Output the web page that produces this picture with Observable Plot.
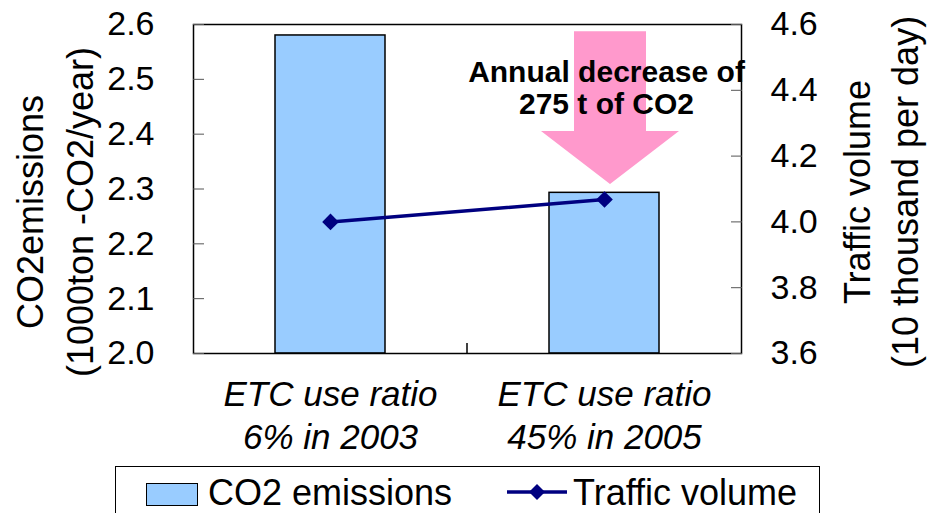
<!DOCTYPE html>
<html><head><meta charset="utf-8">
<script src="https://cdn.jsdelivr.net/npm/d3@7"></script>
<script src="https://cdn.jsdelivr.net/npm/@observablehq/plot@0.6"></script>
<style>
html,body{margin:0;padding:0;background:#fff;}
body{font-family:"Liberation Sans",Arial,sans-serif;overflow:hidden;width:937px;height:513px;position:relative;}
#chart{position:absolute;left:0;top:0;}
#legend{position:absolute;left:115px;top:466px;width:705px;height:70px;border:1px solid #000;box-sizing:border-box;background:#fff;}
#legend .sw{position:absolute;left:30px;top:16px;width:52px;height:23px;background:#99ccff;border:1.5px solid #000;box-sizing:border-box;}
#legend .t{position:absolute;top:8px;font-size:36px;line-height:36px;color:#000;white-space:nowrap;}
#legend svg{position:absolute;left:390px;top:14px;}
</style></head>
<body>
<div id="chart"></div>
<div id="legend"></div>
<script>
// ---- data ----
const categories = ["ETC use ratio\n6% in 2003", "ETC use ratio\n45% in 2005"];
const co2Emissions = [2.58, 2.293];          // 1000 t-CO2/year (left axis)
const trafficVolume = [4.0, 4.068];          // 10 thousand per day (right axis)
const co2Ticks = [2.0, 2.1, 2.2, 2.3, 2.4, 2.5, 2.6];
const trafficTicks = [3.6, 3.8, 4.0, 4.2, 4.4, 4.6];
const seriesNames = ["CO2 emissions", "Traffic volume"];
const annotationLines = ["Annual decrease of", "275 t of CO2"];
const leftTitle = ["CO2emissions", "(1000ton -CO2/year)"];
const rightTitle = ["Traffic volume", "(10 thousand per day)"];

// ---- helpers ----
const co2Domain = [co2Ticks[0], co2Ticks[co2Ticks.length - 1]];
const trafficDomain = [trafficTicks[0], trafficTicks[trafficTicks.length - 1]];
const toLeft = v => co2Domain[0] + (v - trafficDomain[0]) * (co2Domain[1] - co2Domain[0]) / (trafficDomain[1] - trafficDomain[0]);
const fromLeft = v => trafficDomain[0] + (v - co2Domain[0]) * (trafficDomain[1] - trafficDomain[0]) / (co2Domain[1] - co2Domain[0]);

const data = categories.map((c, i) => ({cat: c, co2: co2Emissions[i], traffic: trafficVolume[i]}));

const FONT = '"Liberation Sans", Arial, sans-serif';
const barFill = "#99ccff", lineColor = "#000080", arrowColor = "#ff99cc";

const plot = Plot.plot({
  width: 937, height: 465,
  marginTop: 24, marginBottom: 112, marginLeft: 193, marginRight: 196,
  style: {fontFamily: FONT, fontSize: "34px", color: "#000", background: "#fff", overflow: "visible"},
  x: {domain: categories, paddingInner: 0.6, paddingOuter: 0.3, label: null},
  y: {domain: co2Domain, label: null},
  marks: [
    Plot.barY(data, {x: "cat", y1: () => co2Domain[0], y2: "co2", fill: barFill, stroke: "#000", strokeWidth: 1.5}),
    Plot.frame({stroke: "#000", strokeWidth: 1.5}),
    Plot.axisY({anchor: "left", ticks: co2Ticks, tickFormat: d3.format(".1f"), tickSize: -11, tickPadding: 50,
      stroke: "#555", fill: "#000", fontSize: 34, label: null}),
    Plot.axisY({anchor: "right", ticks: trafficTicks.map(toLeft), tickFormat: d => fromLeft(d).toFixed(1),
      tickSize: -11, tickPadding: 40, stroke: "#555", fill: "#000", fontSize: 34, label: null}),
    Plot.axisX({tickSize: 0, tickPadding: 22, fontStyle: "italic", fontSize: 35, lineHeight: 1.23, fill: "#000", label: null}),
    Plot.line(data, {x: "cat", y: d => toLeft(d.traffic), stroke: lineColor, strokeWidth: 3.5}),
    Plot.dot(data, {x: "cat", y: d => toLeft(d.traffic), symbol: "diamond2", r: 7.5, fill: lineColor, stroke: "none"}),
    Plot.text([annotationLines.join("\n")], {x: () => categories[1], frameAnchor: "top", dy: 34, dx: 2,
      fontWeight: "bold", fontSize: 30, lineHeight: 1.08, fill: "#000"})
  ]
});
document.getElementById("chart").appendChild(plot);

// ---- decorations using the plot's scales ----
const svg = d3.select(plot);
const xs = plot.scale("x"), ys = plot.scale("y");
const yPix = v => ys.apply(v);
const bandCenter = c => xs.apply(c) + xs.bandwidth / 2;

// category boundary tick on x axis
const bx = bandCenter(categories[0]) + xs.step / 2;
svg.append("line").attr("x1", bx).attr("x2", bx).attr("y1", yPix(co2Domain[0])).attr("y2", yPix(co2Domain[0]) - 10)
  .attr("stroke", "#000").attr("stroke-width", 1.5);

// pink arrow (behind annotation text)
const arrowTop = 2.587, arrowHeadBase = 2.405, arrowTip = 2.308;
const acx = bandCenter(categories[1]) + 6, shaftHalf = 36, headHalf = 69;
const arrowPath = [
  [acx - shaftHalf, yPix(arrowTop)], [acx + shaftHalf, yPix(arrowTop)],
  [acx + shaftHalf, yPix(arrowHeadBase)], [acx + headHalf, yPix(arrowHeadBase)],
  [acx, yPix(arrowTip)],
  [acx - headHalf, yPix(arrowHeadBase)], [acx - shaftHalf, yPix(arrowHeadBase)]
];
const arrow = document.createElementNS("http://www.w3.org/2000/svg", "path");
arrow.setAttribute("d", "M" + arrowPath.map(p => p.join(",")).join("L") + "Z");
arrow.setAttribute("fill", arrowColor);
plot.appendChild(arrow);
// bring annotation text above the arrow
const annText = Array.from(plot.querySelectorAll("text")).find(t => t.textContent.includes(annotationLines[0]));
if (annText) {
  const g = annText.closest("g") || annText;
  plot.appendChild(g);
}

// axis titles
function vTitle(lines, xs_, yc) {
  lines.forEach((t, i) => {
    svg.append("text").attr("transform", `translate(${xs_[i]},${yc}) rotate(-90)`)
      .attr("text-anchor", "middle").attr("dominant-baseline", "central")
      .attr("font-family", FONT).attr("font-size", 36).attr("fill", "#000").text(t);
  });
}
vTitle(leftTitle, [30, 80], 212);
vTitle(rightTitle, [857, 905], 192);

// ---- legend (HTML) ----
const lg = d3.select("#legend");
lg.append("span").attr("class", "sw");
lg.append("span").attr("class", "t").style("left", "92px").text(seriesNames[0]);
const ls = lg.append("svg").attr("width", 62).attr("height", 22);
ls.append("line").attr("x1", 1).attr("x2", 61).attr("y1", 11).attr("y2", 11).attr("stroke", lineColor).attr("stroke-width", 3.5);
ls.append("path").attr("d", "M31,3L39,11L31,19L23,11Z").attr("fill", lineColor);
lg.append("span").attr("class", "t").style("left", "457px").text(seriesNames[1]);
</script>
</body></html>
